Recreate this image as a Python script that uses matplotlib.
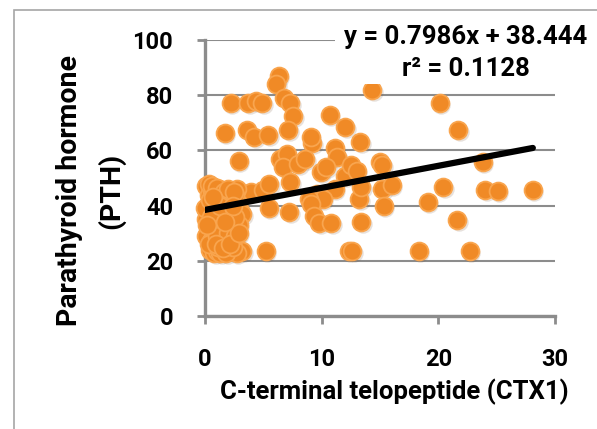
import matplotlib
matplotlib.use("Agg")
import matplotlib.pyplot as plt
import matplotlib.transforms as mtransforms
from matplotlib.patches import Rectangle
import numpy as np

plt.rcParams['font.family'] = ['Roboto', 'DejaVu Sans']

# CTX1 (x) and PTH (y) values
ctx1 = [6.3, 6.1, 2.2, 3.7, 4.4, 4.9, 6.8, 7.3, 7.55, 1.7, 3.6, 4.2, 5.4, 7.15,
        10.7, 12.0, 14.35, 20.1, 21.7, 2.9, 9.2, 9.05, 13.3, 6.4, 7.0, 6.7, 8.0,
        8.6, 11.1, 11.35, 9.9, 10.4, 12.0, 12.55, 13.0, 15.0, 15.2, 23.8, 7.3,
        3.9, 5.0, 5.5, 11.1, 9.6, 10.1, 8.95, 9.1, 13.2, 13.4, 15.2, 16.0, 20.4,
        24.0, 25.1, 28.1, 19.1, 15.3, 5.46, 7.2, 9.3, 9.8, 10.8, 13.4, 21.6,
        5.2, 12.3, 12.6, 18.3, 22.7, 3.2, 2.7,
        0.1, 0.3, 0.5, 0.2, 0.1, 0.3, 0.1, 0.5, 0.4, 0.8, 1.0, 1.3, 1.7, 2.0,
        1.8, 1.2, 1.0, 0.8, 1.5, 1.2, 1.0, 1.4, 0.8, 1.8, 2.2, 1.6, 2.0, 2.3,
        2.5, 2.2, 2.7, 2.8, 3.0, 2.8, 2.5, 2.2, 1.5, 0.6, 0.9, 1.9, 2.6, 0.3,
        1.1, 0.6, 2.4, 1.4, 3.2, 2.9, 0.0, 0.7,
        0.3, 0.6, 1.0, 1.6, 2.0, 2.5, 0.4, 1.8, 2.6, 0.5, 1.0, 2.0, 2.6, 0.2,
        0.9, 1.5, 2.1, 1.3, 2.9, 0.7, 1.7, 2.4]
pth = [86.9, 84.1, 77.2, 77.2, 77.8, 77.2, 79.0, 77.2, 72.3, 66.2, 67.4, 65.0,
       65.6, 67.4, 72.9, 68.3, 82.0, 77.2, 67.4, 56.0, 62.5, 65.0, 63.1, 57.0,
       58.8, 54.0, 55.2, 57.0, 60.7, 57.6, 52.1, 54.0, 50.9, 54.6, 52.7, 55.8,
       54.6, 55.8, 48.5, 44.8, 45.8, 47.9, 46.0, 44.2, 42.4, 42.4, 40.5, 42.4,
       46.6, 46.0, 47.5, 46.6, 45.8, 45.4, 45.8, 41.4, 39.9, 39.3, 37.7, 36.3,
       33.6, 33.8, 34.1, 34.7, 23.4, 23.4, 23.4, 23.4, 23.4, 23.4, 22.8,
       47.0, 44.0, 41.0, 38.0, 35.0, 31.0, 29.0, 27.0, 24.0, 23.0, 23.5, 23.0,
       23.5, 24.5, 23.0, 46.0, 43.0, 40.0, 38.0, 35.0, 32.0, 30.0, 28.0, 27.0,
       28.0, 33.0, 36.0, 39.0, 42.0, 45.0, 46.0, 41.0, 38.0, 35.0, 31.0, 32.0,
       42.0, 45.0, 37.0, 41.0, 44.0, 26.0, 25.0, 33.0, 25.0, 27.0, 37.0, 33.0,
       39.0, 36.0,
       48.0, 47.0, 46.5, 45.0, 46.0, 45.0, 42.0, 38.0, 36.0, 36.0, 29.0, 30.0,
       29.0, 33.0, 26.0, 24.5, 26.0, 40.0, 30.0, 43.0, 34.0, 40.0]

slope = 0.7986
intercept = 38.444
eq_text = "y = 0.7986x + 38.444"
r2_text = "r² = 0.1128"
xlabel = "C-terminal telopeptide (CTX1)"
ylabel_lines = ["Parathyroid hormone", "(PTH)"]
xticks = [0, 10, 20, 30]
yticks = [0, 20, 40, 60, 80, 100]

W, H = 597, 429
fig = plt.figure(figsize=(W / 100, H / 100), dpi=100)
ax = fig.add_axes([205 / W, 1 - 316 / H, 350 / W, 276 / H])

grid_c = '#8C8C8C'
face_c = '#F08A26'
edge_c = '#F9A54E'

# shadow
shadow_tr = mtransforms.offset_copy(ax.transData, fig=fig, x=1.5, y=-2.0, units='dots')
ax.scatter(ctx1, pth, s=175, color='#7a5a40', alpha=0.18, linewidths=0,
           transform=shadow_tr, zorder=2, clip_on=False)
ax.scatter(ctx1, pth, s=165, facecolor=face_c, edgecolor=edge_c,
           linewidths=1.3, zorder=3, clip_on=False)

xs = np.array([min(ctx1), max(ctx1)])
ax.plot(xs, slope * xs + intercept, color='black', lw=4.5,
        solid_capstyle='round', zorder=4)

ax.set_xlim(0, 30)
ax.set_ylim(0, 100)
ax.set_xticks(xticks)
ax.set_yticks(yticks)
ax.set_xticklabels([str(t) for t in xticks], fontsize=17, fontweight='bold')
ax.set_yticklabels([str(t) for t in yticks], fontsize=17, fontweight='bold')
ax.grid(axis='y', color=grid_c, lw=1.5, zorder=1)
ax.set_axisbelow(True)
for s in ['top', 'right']:
    ax.spines[s].set_visible(False)
for s in ['left', 'bottom']:
    ax.spines[s].set_color(grid_c)
    ax.spines[s].set_linewidth(2.4)
ax.tick_params(axis='y', direction='out', length=6, width=2, color=grid_c,
               pad=17)
ax.tick_params(axis='x', direction='out', length=6, width=2, color=grid_c,
               pad=17)

# axis labels in figure pixel coordinates
fig.text(70 / W, 1 - 191 / H, ylabel_lines[0], rotation=90,
         fontsize=20.5, fontweight='bold', ha='center', va='center')
fig.text(111 / W, 1 - 191 / H, ylabel_lines[1], rotation=90,
         fontsize=20.5, fontweight='bold', ha='center', va='center')
fig.text(394 / W, 1 - 392 / H, xlabel, fontsize=18.5, fontweight='bold',
         ha='center', va='center')

# equation box (white background covering the plot)
fig.patches.append(Rectangle((335 / W, 1 - 84 / H), (W - 335) / W, 60 / H,
                             transform=fig.transFigure, facecolor='white',
                             edgecolor='none', zorder=5))
fig.text(466 / W, 1 - 37 / H, eq_text, fontsize=18.5, fontweight='bold',
         ha='center', va='center', zorder=6)
fig.text(466 / W, 1 - 69 / H, r2_text, fontsize=18.5, fontweight='bold',
         ha='center', va='center', zorder=6)

# outer chart border (extends beyond right/bottom edges)
fig.patches.append(Rectangle((14 / W, -0.1), 1.2, 1 - 10 / H + 0.1,
                             transform=fig.transFigure, facecolor='none',
                             edgecolor='#A6A6A6', lw=1.2, zorder=0))

fig.savefig("out.png", dpi=100)
